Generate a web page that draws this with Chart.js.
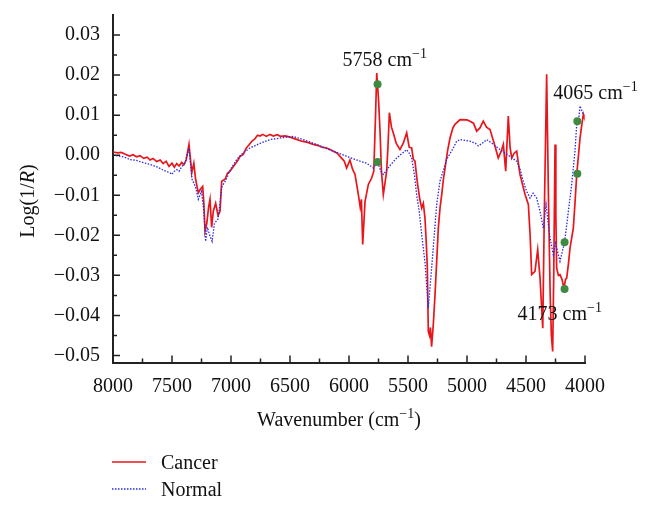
<!DOCTYPE html>
<html>
<head>
<meta charset="utf-8">
<script src="https://cdn.jsdelivr.net/npm/chart.js@4.4.1/dist/chart.umd.min.js"></script>
<style>
  html, body { margin: 0; padding: 0; background: #fff; }
  #wrap { width: 657px; height: 508px; }
</style>
</head>
<body>
<div id="wrap"><canvas id="chart" width="657" height="508"></canvas></div>
<script>
const FONT = "'Liberation Serif', 'Times New Roman', serif";

// Wavenumber (cm-1) and Log(1/R)
const cancerWn = [8000, 7960, 7930, 7900, 7860, 7830, 7800, 7770, 7740, 7710, 7686, 7660, 7630, 7600, 7575, 7550, 7525, 7500, 7480, 7460, 7440, 7418, 7400, 7380, 7356, 7340, 7333, 7315, 7300, 7277, 7260, 7240, 7230, 7220, 7205, 7190, 7178, 7164, 7150, 7130, 7110, 7093, 7079, 7050, 7030, 7008, 6980, 6960, 6940, 6924, 6896, 6870, 6850, 6820, 6800, 6775, 6754, 6730, 6700, 6670, 6641, 6610, 6580, 6540, 6500, 6450, 6400, 6350, 6303, 6260, 6230, 6190, 6161, 6100, 6076, 6040, 6020, 5992, 5970, 5949, 5921, 5905, 5895, 5884, 5864, 5836, 5808, 5790, 5775, 5765, 5750, 5737, 5725, 5709, 5695, 5681, 5670, 5658, 5640, 5625, 5600, 5568, 5540, 5511, 5490, 5469, 5455, 5441, 5420, 5400, 5384, 5370, 5356, 5345, 5336, 5328, 5318, 5310, 5300, 5285, 5271, 5256, 5243, 5228, 5214, 5200, 5186, 5165, 5144, 5120, 5102, 5059, 5000, 4975, 4945, 4918, 4890, 4862, 4835, 4805, 4770, 4735, 4710, 4692, 4672, 4650, 4635, 4621, 4600, 4579, 4551, 4508, 4480, 4465, 4452, 4424, 4401, 4381, 4358, 4345, 4325, 4310, 4295, 4285, 4274, 4265, 4254, 4247, 4240, 4225, 4212, 4195, 4178, 4165, 4155, 4140, 4127, 4099, 4085, 4070, 4042, 4030, 4014, 4010];
const cancerVal = [0.0008, 0.0006, 0.0007, 0.0003, -0.0002, 0.0001, -0.0004, -0.0001, -0.0008, -0.0005, -0.0012, -0.0008, -0.0016, -0.0012, -0.0021, -0.0015, -0.0028, -0.0020, -0.0030, -0.0021, -0.0027, -0.0018, -0.0024, -0.0012, 0.0027, -0.0020, -0.0044, -0.0020, -0.0060, -0.0094, -0.0085, -0.0078, -0.0120, -0.0190, -0.0170, -0.0130, -0.0110, -0.0180, -0.0140, -0.0120, -0.0150, -0.0140, -0.0065, -0.0060, -0.0045, -0.0040, -0.0028, -0.0020, -0.0012, -0.0003, 0.0002, 0.0018, 0.0025, 0.0036, 0.0040, 0.0050, 0.0048, 0.0052, 0.0047, 0.0052, 0.0048, 0.0051, 0.0047, 0.0048, 0.0045, 0.0040, 0.0035, 0.0032, 0.0027, 0.0024, 0.0020, 0.0018, 0.0014, 0.0005, -0.0003, -0.0015, -0.0032, -0.0012, -0.0035, -0.0048, -0.0098, -0.0130, -0.0110, -0.0223, -0.0115, -0.0073, -0.0057, -0.0040, 0.0100, 0.0205, 0.0140, 0.0060, -0.0040, -0.0098, -0.0070, -0.0040, 0.0020, 0.0106, 0.0070, 0.0056, 0.0030, 0.0014, 0.0030, 0.0056, 0.0020, 0.0018, -0.0010, -0.0015, -0.0070, -0.0110, -0.0132, -0.0120, -0.0157, -0.0220, -0.0282, -0.0440, -0.0450, -0.0430, -0.0478, -0.0420, -0.0348, -0.0260, -0.0182, -0.0130, -0.0098, -0.0060, -0.0032, 0.0010, 0.0043, 0.0068, 0.0077, 0.0089, 0.0088, 0.0085, 0.0080, 0.0060, 0.0068, 0.0085, 0.0070, 0.0064, 0.0030, -0.0007, 0.0010, 0.0027, -0.0040, 0.0098, 0.0020, -0.0007, 0.0005, 0.0010, -0.0048, -0.0098, -0.0123, -0.0200, -0.0298, -0.0290, -0.0236, -0.0307, -0.0432, -0.0150, 0.0202, -0.0100, -0.0350, -0.0450, -0.0490, -0.0300, 0.0027, -0.0150, -0.0282, -0.0300, -0.0298, -0.0310, -0.0332, -0.0310, -0.0307, -0.0270, -0.0232, -0.0182, -0.0120, -0.0048, 0.0043, 0.0070, 0.0102, 0.0098];

const normalWn = [8000, 7900, 7856, 7800, 7750, 7686, 7620, 7570, 7517, 7503, 7480, 7460, 7440, 7420, 7390, 7356, 7340, 7330, 7300, 7277, 7250, 7230, 7215, 7200, 7180, 7160, 7140, 7110, 7093, 7079, 7040, 7008, 6950, 6900, 6839, 6750, 6669, 6580, 6472, 6380, 6274, 6180, 6076, 6000, 5907, 5850, 5794, 5758, 5730, 5709, 5650, 5596, 5540, 5511, 5490, 5469, 5445, 5427, 5405, 5384, 5355, 5328, 5305, 5286, 5257, 5229, 5172, 5116, 5088, 5059, 4975, 4930, 4904, 4870, 4833, 4780, 4720, 4650, 4579, 4550, 4523, 4495, 4466, 4440, 4410, 4381, 4353, 4330, 4300, 4269, 4250, 4212, 4173, 4141, 4113, 4085, 4070, 4055, 4042, 4025, 4014];
const normalVal = [0.0000, -0.0005, -0.0011, -0.0013, -0.0018, -0.0023, -0.0030, -0.0038, -0.0044, -0.0048, -0.0040, -0.0036, -0.0040, -0.0030, -0.0020, 0.0018, -0.0030, -0.0060, -0.0080, -0.0110, -0.0090, -0.0140, -0.0215, -0.0180, -0.0200, -0.0215, -0.0170, -0.0160, -0.0120, -0.0080, -0.0060, -0.0037, -0.0010, 0.0005, 0.0018, 0.0030, 0.0039, 0.0043, 0.0047, 0.0038, 0.0027, 0.0015, 0.0004, -0.0005, -0.0015, -0.0020, -0.0032, -0.0017, -0.0040, -0.0048, -0.0025, -0.0007, 0.0007, 0.0014, 0.0005, -0.0007, -0.0050, -0.0098, -0.0140, -0.0198, -0.0270, -0.0382, -0.0300, -0.0232, -0.0123, -0.0065, -0.0010, 0.0018, 0.0035, 0.0039, 0.0035, 0.0030, 0.0023, 0.0030, 0.0039, 0.0028, 0.0014, 0.0000, -0.0015, -0.0035, -0.0065, -0.0090, -0.0107, -0.0095, -0.0107, -0.0140, -0.0182, -0.0123, -0.0200, -0.0248, -0.0220, -0.0265, -0.0217, -0.0140, -0.0073, 0.0010, 0.0077, 0.0085, 0.0123, 0.0110, 0.0102];

// highlighted points
const markWn = [5758, 5758, 4065, 4065, 4173, 4173];
const markVal = [0.0177, -0.0017, 0.0085, -0.0046, -0.0217, -0.0334];
const markText = ["5758", "", "4065", "", "", "4173"];

const xTicks = [8000, 7500, 7000, 6500, 6000, 5500, 5000, 4500, 4000];
const xMinor = [7750, 7250, 6750, 6250, 5750, 5250, 4750, 4250];
const yTicks = [-0.05, -0.04, -0.03, -0.02, -0.01, 0.00, 0.01, 0.02, 0.03];
const yMinor = [-0.045, -0.035, -0.025, -0.015, -0.005, 0.005, 0.015, 0.025];

function toPoints(xs, ys) {
  return xs.map((x, i) => ({ x: x, y: ys[i] }));
}

// text with a superscript part, e.g. cm^-1
function drawSup(ctx, parts, x, y, align) {
  let w = 0;
  parts.forEach(p => {
    ctx.font = (p.italic ? "italic " : "") + (p.sup ? "14px " : "20px ") + FONT;
    w += ctx.measureText(p.t).width;
  });
  let cx = align === "center" ? x - w / 2 : x;
  parts.forEach(p => {
    ctx.font = (p.italic ? "italic " : "") + (p.sup ? "14px " : "20px ") + FONT;
    ctx.fillText(p.t, cx, p.sup ? y - 8 : y);
    cx += ctx.measureText(p.t).width;
  });
}

const extras = {
  id: "extras",
  afterDraw(chart) {
    const ctx = chart.ctx;
    const xs = chart.scales.x, ys = chart.scales.y;
    const area = chart.chartArea;
    ctx.save();
    ctx.strokeStyle = "#222";
    ctx.lineWidth = 1.5;
    // inward tick marks
    ctx.beginPath();
    xTicks.forEach(v => { const p = xs.getPixelForValue(v); ctx.moveTo(p, area.bottom); ctx.lineTo(p, area.bottom - 7); });
    xMinor.forEach(v => { const p = xs.getPixelForValue(v); ctx.moveTo(p, area.bottom); ctx.lineTo(p, area.bottom - 4); });
    yTicks.forEach(v => { const p = ys.getPixelForValue(v); ctx.moveTo(area.left, p); ctx.lineTo(area.left + 7, p); });
    yMinor.forEach(v => { const p = ys.getPixelForValue(v); ctx.moveTo(area.left, p); ctx.lineTo(area.left + 4, p); });
    ctx.stroke();

    ctx.fillStyle = "#111";
    ctx.textBaseline = "alphabetic";
    ctx.textAlign = "left";
    // peak labels
    const offs = { 5758: [-35, -18], 4065: [-24, -22], 4173: [-47, 31] };
    markText.forEach((t, i) => {
      if (!t) return;
      const px = xs.getPixelForValue(markWn[i]);
      const py = ys.getPixelForValue(markVal[i]);
      const o = offs[markWn[i]];
      drawSup(ctx, [{ t: t + " cm" }, { t: "\u22121", sup: true }], px + o[0], py + o[1], "left");
    });

    // axis titles
    drawSup(ctx, [{ t: "Wavenumber (cm" }, { t: "\u22121", sup: true }, { t: ")" }], 339, 426, "center");
    ctx.save();
    ctx.translate(34, 201);
    ctx.rotate(-Math.PI / 2);
    drawSup(ctx, [{ t: "Log(1/" }, { t: "R", italic: true }, { t: ")" }], 0, 0, "center");
    ctx.restore();

    // legend
    const rows = [chart.data.datasets[0], chart.data.datasets[1]];
    rows.forEach((ds, i) => {
      const y = 462 + i * 27;
      ctx.strokeStyle = ds.borderColor;
      ctx.lineWidth = ds.borderWidth;
      ctx.setLineDash(ds.borderDash || []);
      ctx.beginPath();
      ctx.moveTo(112, y);
      ctx.lineTo(146, y);
      ctx.stroke();
      ctx.setLineDash([]);
      ctx.font = "20px " + FONT;
      ctx.fillText(ds.label, 161, y + 7);
    });
    ctx.restore();
  }
};

new Chart(document.getElementById("chart"), {
  type: "line",
  data: {
    datasets: [
      {
        label: "Cancer",
        data: toPoints(cancerWn, cancerVal),
        borderColor: "#e8161b",
        borderWidth: 1.7,
        pointRadius: 0,
        tension: 0,
        order: 2
      },
      {
        label: "Normal",
        data: toPoints(normalWn, normalVal),
        borderColor: "#2a2ae6",
        borderWidth: 1.3,
        borderDash: [1.5, 1.5],
        pointRadius: 0,
        tension: 0,
        order: 1
      },
      {
        label: "marks",
        data: toPoints(markWn, markVal),
        showLine: false,
        pointRadius: 4,
        pointBackgroundColor: "#3f8a40",
        pointBorderWidth: 0,
        order: 0
      }
    ]
  },
  options: {
    responsive: false,
    animation: false,
    events: [],
    layout: { padding: { top: 15, right: 72, bottom: 0, left: 0 } },
    plugins: { legend: { display: false }, tooltip: { enabled: false } },
    scales: {
      x: {
        type: "linear",
        reverse: true,
        min: 4000,
        max: 8000,
        afterBuildTicks: s => { s.ticks = xTicks.map(v => ({ value: v })); },
        afterFit: s => { s.height = 145.5; s.paddingLeft = 0; s.paddingRight = 0; },
        grid: { display: false, drawTicks: false },
        border: { display: true, color: "#222", width: 2 },
        ticks: { padding: 12, color: "#111", font: { family: FONT, size: 20 }, maxRotation: 0, callback: v => String(v) }
      },
      y: {
        min: -0.05175,
        max: 0.035,
        afterBuildTicks: s => { s.ticks = yTicks.map(v => ({ value: v })); },
        afterFit: s => { s.width = 113; s.paddingTop = 0; s.paddingBottom = 0; },
        grid: { display: false, drawTicks: false },
        border: { display: true, color: "#222", width: 2 },
        ticks: {
          padding: 13,
          color: "#111",
          font: { family: FONT, size: 20 },
          callback: v => (v < -1e-9 ? "\u2212" : "") + Math.abs(v).toFixed(2)
        }
      }
    }
  },
  plugins: [extras]
});
</script>
</body>
</html>
